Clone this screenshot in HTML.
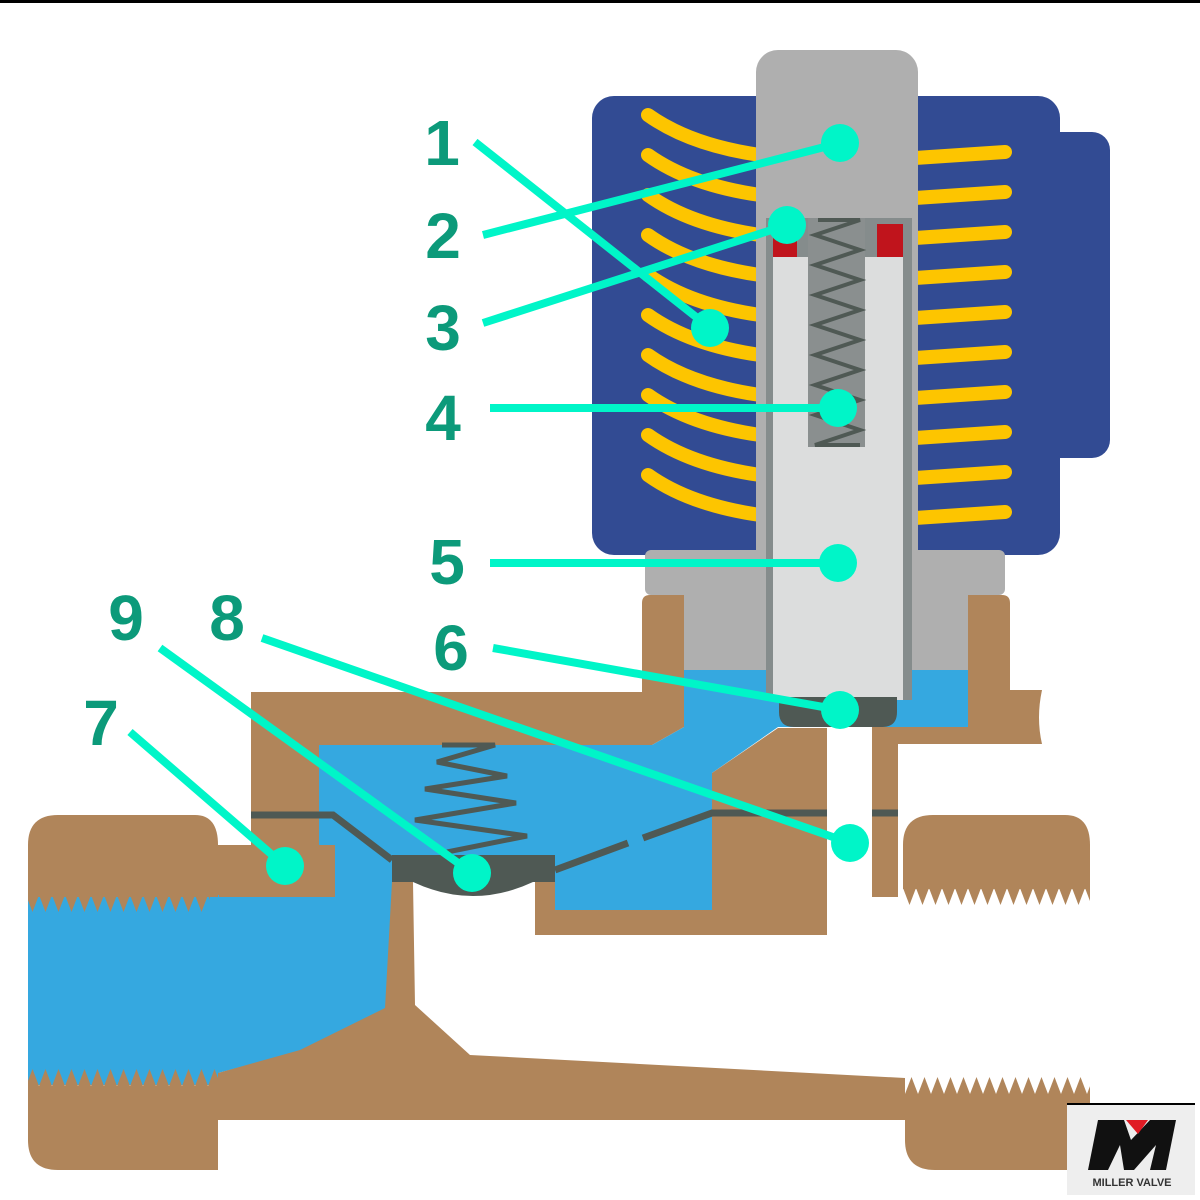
<!DOCTYPE html>
<html><head><meta charset="utf-8"><style>
html,body{margin:0;padding:0;background:#fff;}
svg{display:block;}
text{font-family:"Liberation Sans",sans-serif;font-weight:bold;}
</style></head><body>
<svg width="1200" height="1200" viewBox="0 0 1200 1200" xmlns="http://www.w3.org/2000/svg">
<defs>
<pattern id="tdL" x="0" y="895" width="13" height="18" patternUnits="userSpaceOnUse">
<polygon points="0,0 13,0 6.5,17" fill="#b0855a"/>
</pattern>
<pattern id="tdR" x="903" y="888" width="13" height="18" patternUnits="userSpaceOnUse">
<polygon points="0,0 13,0 6.5,17" fill="#b0855a"/>
</pattern>
<pattern id="tuL" x="0" y="1068" width="13" height="18" patternUnits="userSpaceOnUse">
<polygon points="0,18 13,18 6.5,1" fill="#b0855a"/>
</pattern>
<pattern id="tuR" x="905" y="1076" width="13" height="18" patternUnits="userSpaceOnUse">
<polygon points="0,18 13,18 6.5,1" fill="#b0855a"/>
</pattern>
</defs>
<rect width="1200" height="1200" fill="#fff"/>
<rect x="0" y="0" width="1200" height="3" fill="#000"/>

<!-- coil -->
<rect x="1040" y="132" width="70" height="326" rx="18" fill="#324b93"/>
<rect x="592" y="96" width="468" height="459" rx="22" fill="#324b93"/>
<g stroke="#fdc500" stroke-width="14" stroke-linecap="round" fill="none">
<path d="M648,115 Q690,145 760,155"/><path d="M648,155 Q690,185 760,195"/>
<path d="M648,195 Q690,225 760,235"/><path d="M648,235 Q690,265 760,275"/>
<path d="M648,275 Q690,305 760,315"/><path d="M648,315 Q690,345 760,355"/>
<path d="M648,355 Q690,385 760,395"/><path d="M648,395 Q690,425 760,435"/>
<path d="M648,435 Q690,465 760,475"/><path d="M648,475 Q690,505 760,515"/>
<path d="M915,158 L1005,152"/><path d="M915,198 L1005,192"/>
<path d="M915,238 L1005,232"/><path d="M915,278 L1005,272"/>
<path d="M915,318 L1005,312"/><path d="M915,358 L1005,352"/>
<path d="M915,398 L1005,392"/><path d="M915,438 L1005,432"/>
<path d="M915,478 L1005,472"/><path d="M915,518 L1005,512"/>
</g>
<!-- gray cap & bracket -->
<rect x="645" y="550" width="360" height="45" rx="6" fill="#afafaf"/>
<rect x="756" y="50" width="162" height="620" rx="22" fill="#afafaf"/>
<rect x="684" y="590" width="284" height="80" fill="#afafaf"/>

<!-- brass upper -->
<path d="M642,603 Q642,595 650,595 L684,595 L684,727 L652,745 L319,745 L319,845 L335,845 L335,897 L218,897 L218,845 L251,845 L251,692 L642,692 Z" fill="#b0855a"/>
<path d="M968,595 L1002,595 Q1010,595 1010,603 L1010,690 L1042,690 Q1036,718 1042,744 L898,744 L898,897 L872,897 L872,727 L968,727 Z" fill="#b0855a"/>
<!-- blue water -->
<rect x="684" y="670" width="284" height="57" fill="#35a8e0"/>
<rect x="28" y="895" width="191" height="190" fill="#35a8e0"/>
<path d="M684,727 L778,727 L712,773 L712,910 L555,910 L555,882 L392,882 L392,1008 L305,1050 L218,1073 L218,897 L335,897 L335,845 L319,845 L319,745 L652,745 Z" fill="#35a8e0"/>
<!-- center brass block -->
<path d="M712,773 L778,728 L827,728 L827,935 L535,935 L535,882 L555,882 L555,910 L712,910 Z" fill="#b0855a"/>

<!-- tube -->
<rect x="766" y="218" width="146" height="482" fill="#858c8c"/>
<rect x="773" y="257" width="130" height="443" fill="#dcdddd"/>
<rect x="808" y="218" width="57" height="229" fill="#8a8f8f"/>
<rect x="773" y="224" width="24" height="33" fill="#c0141c"/>
<rect x="877" y="224" width="26" height="33" fill="#c0141c"/>
<polyline points="818,220 860,220 815,235 860,250 815,265 860,280 815,295 860,310 815,325 860,340 815,355 860,370 815,385 860,400 815,415 860,430 815,445 860,445" fill="none" stroke="#4f5954" stroke-width="4"/>
<!-- seal -->
<path d="M779,697 L897,697 L897,712 Q897,727 882,727 L794,727 Q779,727 779,712 Z" fill="#4f5954"/>

<!-- gasket -->
<g stroke="#4f5954" stroke-width="7" fill="none">
<polyline points="251,815 333,815 392,860"/>
<polyline points="555,870 628,843"/>
<polyline points="643,838 712,813 827,813"/>
<line x1="872" y1="813" x2="898" y2="813"/>
</g>
<!-- diaphragm -->
<path d="M392,855 L555,855 L555,882 L533,882 Q473,910 413,882 L392,882 Z" fill="#4f5954"/>
<polyline points="442,745 495,745 437,762 507,776 425,789 516,803 415,820 527,836 447,852" fill="none" stroke="#4f5954" stroke-width="5"/>

<!-- left pipe -->
<path d="M28,845 Q28,815 58,815 L195,815 Q218,815 218,845 L218,897 L28,897 Z" fill="#b0855a"/>
<rect x="28" y="895" width="182" height="18" fill="url(#tdL)"/>
<path d="M28,1086 L218,1086 L218,1170 L58,1170 Q28,1170 28,1140 Z" fill="#b0855a"/>
<rect x="28" y="1068" width="190" height="18" fill="url(#tuL)"/>
<!-- stem & bottom body -->
<path d="M392,882 L413,882 L415,1005 L470,1055 L905,1078 L905,1120 L218,1120 L218,1073 L300,1050 L385,1008 Z" fill="#b0855a"/>
<!-- right pipe -->
<path d="M903,845 Q903,815 933,815 L1065,815 Q1090,815 1090,845 L1090,889 L903,889 Z" fill="#b0855a"/>
<rect x="903" y="888" width="187" height="18" fill="url(#tdR)"/>
<path d="M905,1094 L1090,1094 L1090,1170 L935,1170 Q905,1170 905,1140 Z" fill="#b0855a"/>
<rect x="905" y="1076" width="185" height="18" fill="url(#tuR)"/>

<!-- logo -->
<rect x="1067" y="1103" width="128" height="92" fill="#eeeeee"/>
<rect x="1067" y="1103" width="128" height="2" fill="#000"/>
<polygon points="1098,1120 1124,1120 1131,1140 1150,1120 1176,1120 1166,1170 1150,1170 1156,1145 1134,1170 1124,1170 1120,1145 1108,1170 1088,1170" fill="#111"/>
<polygon points="1126,1120 1148,1120 1138,1134" fill="#e01b24"/>
<text x="1132" y="1186" font-size="11" text-anchor="middle" fill="#333">MILLER VALVE</text>

<!-- leaders -->
<g stroke="#00f5c8" stroke-width="8" fill="none">
<line x1="475" y1="142" x2="710" y2="328"/>
<line x1="483" y1="235" x2="840" y2="143"/>
<line x1="483" y1="323" x2="787" y2="225"/>
<line x1="490" y1="408" x2="838" y2="408"/>
<line x1="490" y1="563" x2="838" y2="563"/>
<line x1="493" y1="648" x2="840" y2="710"/>
<line x1="130" y1="732" x2="285" y2="866"/>
<line x1="262" y1="638" x2="850" y2="843"/>
<line x1="160" y1="648" x2="472" y2="873"/>
</g>
<g fill="#00f5c8">
<ellipse cx="710" cy="328" rx="19" ry="19"/>
<ellipse cx="840" cy="143" rx="19" ry="19"/>
<ellipse cx="787" cy="225" rx="19" ry="19"/>
<ellipse cx="838" cy="408" rx="19" ry="19"/>
<ellipse cx="838" cy="563" rx="19" ry="19"/>
<ellipse cx="840" cy="710" rx="19" ry="19"/>
<ellipse cx="285" cy="866" rx="19" ry="19"/>
<ellipse cx="850" cy="843" rx="19" ry="19"/>
<ellipse cx="472" cy="873" rx="19" ry="19"/>
</g>
<g fill="#0c9a7a" font-size="64" text-anchor="middle">
<text x="442" y="165">1</text>
<text x="443" y="258">2</text>
<text x="443" y="350">3</text>
<text x="443" y="440">4</text>
<text x="447" y="584">5</text>
<text x="451" y="670">6</text>
<text x="101" y="745">7</text>
<text x="227" y="640">8</text>
<text x="126" y="640">9</text>
</g>
</svg>
</body></html>
